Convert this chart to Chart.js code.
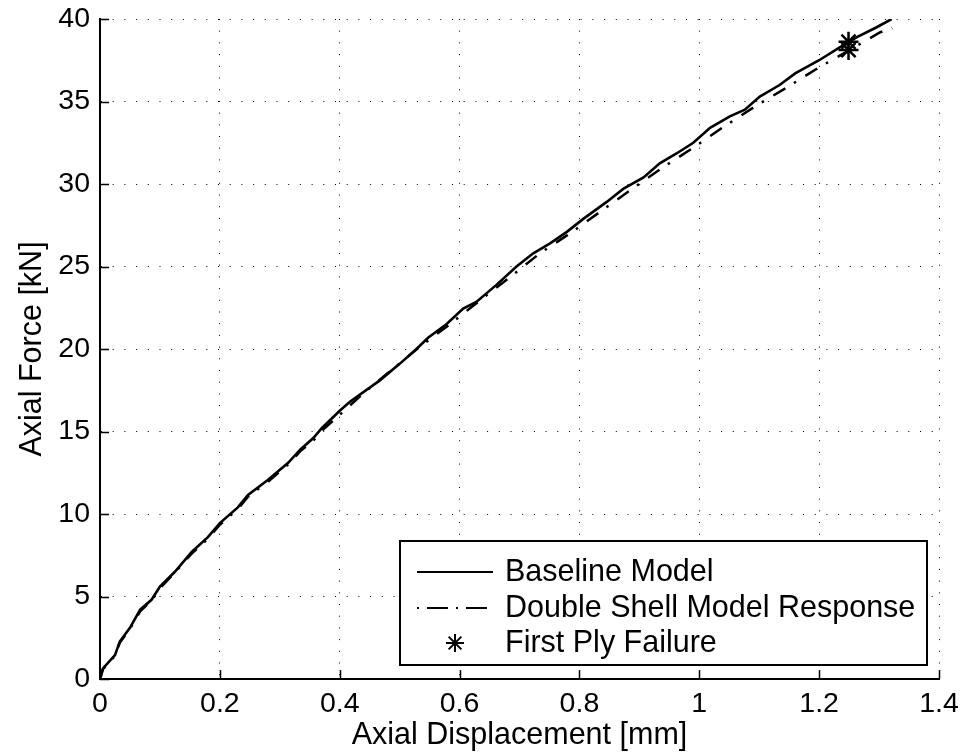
<!DOCTYPE html>
<html>
<head>
<meta charset="utf-8">
<script src="https://cdn.jsdelivr.net/npm/chart.js@4/dist/chart.umd.min.js"></script>
<style>
html,body{margin:0;padding:0;background:#fff;}
#wrap{width:962px;height:755px;position:relative;}
</style>
</head>
<body>
<div id="wrap"><canvas id="c" width="962" height="755"></canvas></div>
<script>
// ---- data ----
const xTickLabels = ['0', '0.2', '0.4', '0.6', '0.8', '1', '1.2', '1.4'];
const yTickLabels = ['0', '5', '10', '15', '20', '25', '30', '35', '40'];
const seriesLabels = ['Baseline Model', 'Double Shell Model Response', 'First Ply Failure'];

const baselineX = [0, 0.005, 0.025, 0.033, 0.05, 0.067, 0.086, 0.1, 0.125, 0.153, 0.18, 0.2, 0.23, 0.247, 0.28, 0.314, 0.334, 0.356, 0.37, 0.4, 0.417, 0.467, 0.5, 0.528, 0.548, 0.578, 0.606, 0.628, 0.662, 0.695, 0.723, 0.751, 0.779, 0.807, 0.845, 0.873, 0.907, 0.934, 0.962, 0.99, 1.018, 1.051, 1.076, 1.101, 1.134, 1.16, 1.2, 1.235, 1.263, 1.296, 1.321];
const baselineY = [0, 0.65, 1.45, 2.27, 3.1, 4.2, 4.8, 5.6, 6.5, 7.7, 8.6, 9.45, 10.4, 11.15, 12.06, 13.1, 13.9, 14.6, 15.2, 16.26, 16.8, 18.1, 19.1, 20.0, 20.7, 21.5, 22.45, 22.85, 23.9, 25.0, 25.8, 26.4, 27.1, 27.9, 28.9, 29.7, 30.4, 31.25, 31.85, 32.5, 33.4, 34.1, 34.5, 35.3, 36.0, 36.7, 37.5, 38.3, 38.9, 39.5, 40.0];

const doubleShellX = [0, 0.005, 0.025, 0.033, 0.05, 0.067, 0.086, 0.1, 0.125, 0.153, 0.18, 0.2, 0.23, 0.247, 0.28, 0.314, 0.334, 0.356, 0.37, 0.398, 0.439, 0.489, 0.534, 0.584, 0.634, 0.684, 0.734, 0.784, 0.834, 0.884, 0.937, 0.99, 1.04, 1.093, 1.146, 1.199, 1.25, 1.302, 1.322];
const doubleShellY = [0, 0.6, 1.4, 2.2, 3.05, 4.1, 4.75, 5.5, 6.45, 7.6, 8.5, 9.35, 10.3, 11.05, 11.95, 13.0, 13.8, 14.45, 15.05, 15.95, 17.3, 18.8, 20.15, 21.5, 22.95, 24.35, 25.8, 27.0, 28.3, 29.6, 30.95, 32.2, 33.45, 34.7, 35.85, 37.05, 38.1, 39.2, 39.45];

const failureX = [1.249, 1.249];
const failureY = [38.62, 38.12];

// ---- helpers ----
const FONT = '"Liberation Sans", Arial, Helvetica, sans-serif';
const toPts = (xs, ys) => xs.map((x, i) => ({x: x, y: ys[i]}));

const inwardTicks = {
  id: 'inwardTicks',
  afterDatasetsDraw(chart) {
    const ctx = chart.ctx;
    const xs = chart.scales.x, ys = chart.scales.y;
    const a = chart.chartArea;
    const L = 9;
    ctx.save();
    ctx.strokeStyle = '#000';
    ctx.lineWidth = 1.5;
    ctx.beginPath();
    xs.ticks.forEach(t => {
      const px = Math.round(xs.getPixelForValue(t.value)) + 0.5;
      ctx.moveTo(px, a.bottom);
      ctx.lineTo(px, a.bottom - L);
    });
    ys.ticks.forEach(t => {
      const py = Math.round(ys.getPixelForValue(t.value)) + 0.5;
      ctx.moveTo(a.left, py);
      ctx.lineTo(a.left + L, py);
    });
    ctx.stroke();
    ctx.restore();
  }
};

const boxLegend = {
  id: 'boxLegend',
  afterDraw(chart) {
    const ctx = chart.ctx;
    const ds = chart.data.datasets;
    const bx = 400, by = 541, bw = 527, bh = 124;
    ctx.save();
    ctx.fillStyle = '#fff';
    ctx.fillRect(bx, by, bw, bh);
    ctx.strokeStyle = '#000';
    ctx.lineWidth = 2;
    ctx.strokeRect(bx, by, bw, bh);
    const rows = [572, 608, 643];
    const x1 = 417, x2 = 493, tx = 505;
    ctx.font = '30.5px ' + FONT;
    ctx.textBaseline = 'middle';
    ctx.textAlign = 'left';
    ctx.fillStyle = '#000';
    ds.forEach((d, i) => {
      const y = rows[i];
      ctx.save();
      if (d.showLine) {
        ctx.strokeStyle = d.borderColor;
        ctx.lineWidth = 2;
        ctx.setLineDash(d.legendDash || []);
        ctx.beginPath();
        ctx.moveTo(x1, y);
        ctx.lineTo(x2, y);
        ctx.stroke();
      } else {
        ctx.strokeStyle = '#000';
        ctx.fillStyle = '#000';
        Chart.helpers.drawPoint(ctx, {pointStyle: d.pointStyle, radius: 9, borderWidth: 2.5, rotation: 0}, (x1 + x2) / 2, y);
      }
      ctx.restore();
      ctx.fillText(d.label, tx, y + 1);
    });
    ctx.restore();
  }
};

new Chart(document.getElementById('c'), {
  type: 'scatter',
  data: {
    datasets: [
      {
        label: seriesLabels[0],
        data: toPts(baselineX, baselineY),
        showLine: true,
        borderColor: '#000',
        borderWidth: 2.6,
        pointRadius: 0,
        tension: 0
      },
      {
        label: seriesLabels[1],
        data: toPts(doubleShellX, doubleShellY),
        showLine: true,
        borderColor: '#000',
        borderWidth: 2.5,
        borderDash: [14, 10, 2.5, 11],
        legendDash: [2, 8, 21, 8],
        pointRadius: 0,
        tension: 0
      },
      {
        label: seriesLabels[2],
        data: toPts(failureX, failureY),
        showLine: false,
        pointStyle: 'star',
        pointRadius: 10,
        borderColor: '#000',
        backgroundColor: '#000',
        pointBorderWidth: 2.5,
        borderWidth: 2.5
      }
    ]
  },
  options: {
    responsive: false,
    animation: false,
    devicePixelRatio: 1,
    layout: {padding: {top: 19, right: 23, left: 0, bottom: 0}},
    plugins: {legend: {display: false}, tooltip: {enabled: false}},
    scales: {
      x: {
        type: 'linear',
        min: 0, max: 1.4,
        ticks: {
          stepSize: 0.2,
          autoSkip: false,
          maxRotation: 0,
          padding: 8,
          color: '#000',
          font: {family: FONT, size: 28.5},
          callback: (v, i) => xTickLabels[i]
        },
        grid: {color: '#000', lineWidth: 1, drawTicks: false, tickLength: 0},
        border: {display: true, color: '#000', width: 2, dash: [1, 10.7]},
        title: {
          display: true,
          text: 'Axial Displacement [mm]',
          color: '#000',
          font: {family: FONT, size: 30.5},
          padding: {top: 0, bottom: 1}
        },
        afterFit: (s) => { s.height = 76; s.paddingLeft = 0; s.paddingRight = 0; }
      },
      y: {
        type: 'linear',
        min: 0, max: 40,
        ticks: {
          stepSize: 5,
          autoSkip: false,
          padding: 10,
          color: '#000',
          font: {family: FONT, size: 28.5},
          callback: (v, i) => yTickLabels[i]
        },
        grid: {color: '#000', lineWidth: 1, drawTicks: false, tickLength: 0},
        border: {display: true, color: '#000', width: 2, dash: [1, 10.7]},
        title: {
          display: true,
          text: 'Axial Force [kN]',
          color: '#000',
          font: {family: FONT, size: 30.5},
          padding: {top: 14, bottom: 0}
        },
        afterFit: (s) => { s.width = 100; s.paddingTop = 0; s.paddingBottom = 0; }
      }
    }
  },
  plugins: [inwardTicks, boxLegend]
});
</script>
</body>
</html>
